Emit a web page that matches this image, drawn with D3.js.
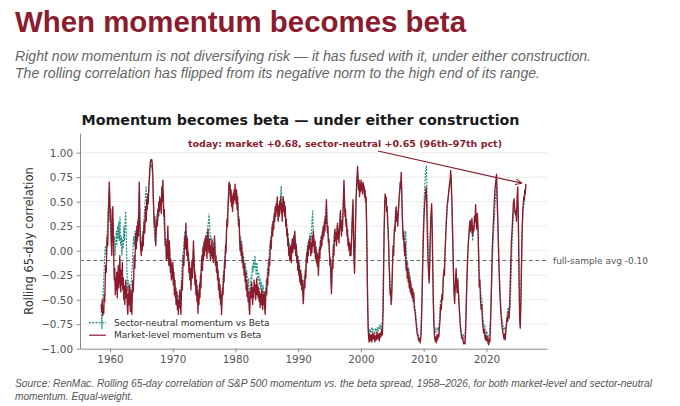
<!DOCTYPE html>
<html><head><meta charset="utf-8">
<script src="https://cdn.jsdelivr.net/npm/d3@7"></script>
<style>body{margin:0;background:#fff;} svg{display:block;}</style>
</head><body>
<svg id="chart" width="680" height="406"></svg>
<script>
// ---------- DATA ----------
const seriesNames = ["Sector-neutral momentum vs Beta", "Market-level momentum vs Beta"];
const yTicks = [-1.0, -0.75, -0.5, -0.25, 0.0, 0.25, 0.5, 0.75, 1.0];
const xTicks = [1960, 1970, 1980, 1990, 2000, 2010, 2020];
const fullSampleAvg = -0.10;
const todayMarket = 0.68, todaySector = 0.65, todayPct = "96th–97th pct";

const marketLevel = [
[1958.60,-0.55],[1958.68,-0.62],[1958.76,-0.50],[1958.84,-0.66],[1958.92,-0.58],[1959.00,-0.64],[1959.08,-0.45],[1959.16,-0.52],[1959.24,-0.30],[1959.32,-0.15],[1959.40,-0.22],[1959.48,0.02],[1959.56,0.15],[1959.64,0.05],[1959.72,0.35],[1959.80,0.50],[1959.88,0.70],[1959.96,0.55],
[1960.04,0.30],[1960.12,0.42],[1960.20,0.10],[1960.28,-0.05],[1960.36,0.20],[1960.44,0.45],[1960.52,0.22],[1960.60,-0.10],[1960.68,-0.30],[1960.76,-0.18],[1960.84,-0.45],[1960.92,-0.28],[1961.00,-0.40],[1961.08,-0.22],[1961.16,-0.48],[1961.24,-0.30],[1961.32,-0.15],[1961.40,-0.38],[1961.48,-0.25],[1961.56,-0.05],[1961.64,-0.30],[1961.72,-0.42],[1961.80,-0.20],[1961.88,-0.35],[1961.96,-0.12],
[1962.04,-0.40],[1962.12,-0.28],[1962.20,-0.50],[1962.28,-0.36],[1962.36,-0.55],[1962.44,-0.40],[1962.52,-0.30],[1962.60,-0.48],[1962.68,-0.38],[1962.76,-0.58],[1962.84,-0.65],[1962.92,-0.45],[1963.00,-0.55],[1963.08,-0.35],[1963.16,-0.48],[1963.24,-0.62],[1963.32,-0.40],[1963.40,-0.52],[1963.48,-0.65],[1963.56,-0.45],[1963.64,-0.30],[1963.72,-0.42],[1963.80,-0.22],[1963.88,-0.05],[1963.96,-0.18],
[1964.04,0.05],[1964.12,0.18],[1964.20,0.02],[1964.28,0.25],[1964.36,0.10],[1964.44,0.30],[1964.52,0.15],[1964.60,0.40],[1964.66,0.70],[1964.74,0.35],[1964.82,0.10],[1964.90,0.02],[1964.98,-0.05],[1965.06,0.08],[1965.14,0.00],[1965.22,0.15],[1965.30,0.05],[1965.38,0.22],[1965.46,0.30],[1965.54,0.18],[1965.62,0.38],[1965.70,0.45],[1965.78,0.30],[1965.86,0.52],[1965.94,0.42],
[1966.02,0.58],[1966.10,0.48],[1966.18,0.65],[1966.26,0.72],[1966.34,0.82],[1966.42,0.90],[1966.50,0.93],[1966.58,0.91],[1966.66,0.93],[1966.74,0.88],[1966.82,0.78],[1966.90,0.55],[1966.98,0.40],[1967.06,0.25],[1967.14,0.35],[1967.22,0.15],[1967.30,0.05],[1967.38,0.22],[1967.46,0.32],[1967.54,0.25],[1967.62,0.42],[1967.70,0.35],[1967.78,0.50],[1967.86,0.40],[1967.94,0.55],
[1968.02,0.45],[1968.10,0.52],[1968.18,0.38],[1968.26,0.65],[1968.34,0.50],[1968.42,0.72],[1968.50,0.55],[1968.58,0.35],[1968.66,0.42],[1968.74,0.18],[1968.82,0.05],[1968.90,0.12],[1968.98,-0.10],[1969.06,0.05],[1969.14,-0.08],[1969.22,0.25],[1969.30,0.02],[1969.38,-0.15],[1969.46,0.10],[1969.54,-0.05],[1969.62,-0.22],[1969.70,-0.10],[1969.78,-0.30],[1969.86,-0.15],[1969.94,-0.28],
[1970.02,-0.12],[1970.10,-0.35],[1970.18,-0.22],[1970.26,-0.45],[1970.34,-0.30],[1970.42,-0.48],[1970.50,-0.38],[1970.58,-0.55],[1970.66,-0.42],[1970.74,-0.60],[1970.82,-0.50],[1970.90,-0.65],[1970.98,-0.52],[1971.06,-0.58],[1971.14,-0.40],[1971.22,-0.52],[1971.30,-0.65],[1971.38,-0.45],[1971.46,-0.30],[1971.54,-0.40],[1971.62,-0.18],[1971.70,-0.05],[1971.78,-0.15],[1971.86,0.05],[1971.94,0.15],
[1972.02,0.02],[1972.10,0.28],[1972.18,0.10],[1972.26,-0.05],[1972.34,0.12],[1972.42,-0.10],[1972.50,-0.02],[1972.58,-0.22],[1972.66,-0.12],[1972.74,-0.30],[1972.82,-0.18],[1972.90,-0.40],[1972.98,-0.25],[1973.06,-0.10],[1973.14,-0.28],[1973.22,-0.15],[1973.30,0.10],[1973.38,-0.05],[1973.46,-0.20],[1973.54,-0.35],[1973.62,-0.25],[1973.70,-0.45],[1973.78,-0.30],[1973.86,-0.52],[1973.94,-0.40],
[1974.02,-0.64],[1974.10,-0.45],[1974.18,-0.55],[1974.26,-0.35],[1974.34,-0.48],[1974.42,-0.25],[1974.50,-0.38],[1974.58,-0.15],[1974.66,-0.05],[1974.74,-0.20],[1974.82,0.02],[1974.90,-0.10],[1974.98,0.08],[1975.06,-0.05],[1975.14,0.12],[1975.22,0.00],[1975.30,0.15],[1975.38,0.05],[1975.46,-0.08],[1975.54,0.10],[1975.62,0.22],[1975.70,0.05],[1975.78,-0.02],[1975.86,0.12],[1975.94,0.02],
[1976.02,-0.10],[1976.10,0.05],[1976.18,-0.05],[1976.26,0.10],[1976.34,-0.08],[1976.42,0.02],[1976.50,-0.12],[1976.58,0.05],[1976.66,0.15],[1976.74,-0.02],[1976.82,-0.15],[1976.90,-0.05],[1976.98,-0.22],[1977.06,-0.12],[1977.14,-0.30],[1977.22,-0.20],[1977.30,-0.40],[1977.38,-0.28],[1977.46,-0.48],[1977.54,-0.35],[1977.62,-0.55],[1977.70,-0.45],[1977.78,-0.65],[1977.86,-0.50],[1977.94,-0.38],
[1978.02,-0.45],[1978.10,-0.25],[1978.18,-0.32],[1978.26,-0.10],[1978.34,-0.18],[1978.42,0.05],[1978.50,-0.02],[1978.58,0.20],[1978.66,0.32],[1978.74,0.25],[1978.82,0.45],[1978.90,0.58],[1978.98,0.70],[1979.06,0.62],[1979.14,0.68],[1979.22,0.50],[1979.30,0.62],[1979.38,0.45],[1979.46,0.55],[1979.54,0.40],[1979.62,0.58],[1979.70,0.48],[1979.78,0.62],[1979.86,0.52],[1979.94,0.68],
[1980.02,0.55],[1980.10,0.48],[1980.18,0.62],[1980.26,0.42],[1980.34,0.55],[1980.42,0.35],[1980.50,0.25],[1980.58,0.32],[1980.66,0.12],[1980.74,0.00],[1980.82,0.10],[1980.90,-0.05],[1980.98,0.05],[1981.06,-0.12],[1981.14,-0.02],[1981.22,-0.18],[1981.30,-0.10],[1981.38,-0.25],[1981.46,-0.15],[1981.54,-0.32],[1981.62,-0.22],[1981.70,-0.40],[1981.78,-0.30],[1981.86,-0.47],[1981.94,-0.35],
[1982.02,-0.52],[1982.10,-0.42],[1982.18,-0.58],[1982.26,-0.65],[1982.34,-0.50],[1982.42,-0.40],[1982.50,-0.48],[1982.58,-0.32],[1982.66,-0.42],[1982.74,-0.55],[1982.82,-0.38],[1982.90,-0.48],[1982.98,-0.30],[1983.06,-0.42],[1983.14,-0.35],[1983.22,-0.50],[1983.30,-0.40],[1983.38,-0.28],[1983.46,-0.45],[1983.54,-0.35],[1983.62,-0.48],[1983.70,-0.38],[1983.78,-0.52],[1983.86,-0.42],[1983.94,-0.58],
[1984.02,-0.45],[1984.10,-0.55],[1984.18,-0.40],[1984.26,-0.50],[1984.34,-0.60],[1984.42,-0.45],[1984.50,-0.55],[1984.58,-0.42],[1984.66,-0.58],[1984.74,-0.65],[1984.82,-0.48],[1984.90,-0.38],[1984.98,-0.45],[1985.06,-0.28],[1985.14,-0.35],[1985.22,-0.18],[1985.30,-0.25],[1985.38,-0.08],[1985.46,-0.15],[1985.54,0.02],[1985.62,0.10],[1985.70,0.02],[1985.78,0.18],[1985.86,0.25],[1985.94,0.15],
[1986.02,0.30],[1986.10,0.22],[1986.18,0.38],[1986.26,0.30],[1986.34,0.45],[1986.42,0.35],[1986.50,0.48],[1986.58,0.40],[1986.66,0.55],[1986.74,0.38],[1986.82,0.30],[1986.90,0.45],[1986.98,0.35],[1987.06,0.50],[1987.14,0.42],[1987.22,0.55],[1987.30,0.38],[1987.38,0.48],[1987.46,0.30],[1987.54,0.45],[1987.62,0.55],[1987.70,0.40],[1987.78,0.50],[1987.86,0.35],[1987.94,0.45],
[1988.02,0.25],[1988.10,0.32],[1988.18,0.15],[1988.26,0.22],[1988.34,0.05],[1988.42,0.12],[1988.50,-0.05],[1988.58,0.02],[1988.66,-0.10],[1988.74,0.05],[1988.82,-0.02],[1988.90,-0.12],[1988.98,0.05],[1989.06,0.12],[1989.14,-0.02],[1989.22,0.08],[1989.30,0.15],[1989.38,0.02],[1989.46,0.20],[1989.54,0.08],[1989.62,-0.05],[1989.70,0.05],[1989.78,-0.12],[1989.86,-0.05],[1989.94,-0.20],
[1990.02,-0.10],[1990.10,-0.25],[1990.18,-0.15],[1990.26,-0.32],[1990.34,-0.20],[1990.42,-0.35],[1990.50,-0.25],[1990.58,-0.40],[1990.66,-0.30],[1990.74,-0.45],[1990.82,-0.54],[1990.90,-0.42],[1990.98,-0.30],[1991.06,-0.38],[1991.14,-0.20],[1991.22,-0.28],[1991.30,-0.10],[1991.38,-0.02],[1991.46,-0.12],[1991.54,0.05],[1991.62,-0.05],[1991.70,0.10],[1991.78,0.02],[1991.86,0.14],[1991.94,0.05],
[1992.02,-0.05],[1992.10,0.08],[1992.18,-0.02],[1992.26,0.15],[1992.34,0.05],[1992.42,0.20],[1992.50,0.08],[1992.58,-0.02],[1992.66,0.10],[1992.74,-0.08],[1992.82,0.02],[1992.90,-0.12],[1992.98,-0.02],[1993.06,-0.16],[1993.14,-0.05],[1993.22,-0.25],[1993.30,-0.12],[1993.38,0.02],[1993.46,-0.08],[1993.54,0.10],[1993.62,0.02],[1993.70,0.15],[1993.78,0.05],[1993.86,0.20],[1993.94,0.12],
[1994.02,0.25],[1994.10,0.15],[1994.18,0.30],[1994.26,0.20],[1994.34,0.35],[1994.42,0.28],[1994.50,0.52],[1994.58,0.30],[1994.66,0.18],[1994.74,0.25],[1994.82,0.08],[1994.90,0.12],[1994.98,-0.02],[1995.06,-0.15],[1995.14,-0.08],[1995.22,-0.28],[1995.30,-0.44],[1995.38,-0.25],[1995.46,-0.10],[1995.54,-0.18],[1995.62,0.05],[1995.70,-0.05],[1995.78,0.15],[1995.86,0.22],[1995.94,0.10],
[1996.02,0.18],[1996.10,0.05],[1996.18,0.15],[1996.26,0.28],[1996.34,0.12],[1996.42,0.22],[1996.50,0.08],[1996.58,0.20],[1996.66,0.30],[1996.74,0.41],[1996.82,0.25],[1996.90,0.15],[1996.98,0.30],[1997.06,0.20],[1997.14,0.38],[1997.22,0.55],[1997.30,0.72],[1997.38,0.50],[1997.46,0.35],[1997.54,0.42],[1997.62,0.25],[1997.70,0.32],[1997.78,0.15],[1997.86,0.22],[1997.94,0.05],
[1998.02,0.12],[1998.10,0.00],[1998.18,0.08],[1998.26,-0.05],[1998.34,0.05],[1998.42,-0.05],[1998.50,0.10],[1998.58,0.25],[1998.66,0.40],[1998.74,0.52],[1998.82,0.15],[1998.90,-0.10],[1998.98,-0.23],[1999.06,0.05],[1999.14,0.30],[1999.22,0.50],[1999.30,0.65],[1999.38,0.75],[1999.46,0.86],[1999.54,0.75],[1999.62,0.62],[1999.70,0.72],[1999.78,0.55],[1999.86,0.68],[1999.94,0.60],
[2000.02,0.72],[2000.10,0.62],[2000.18,0.68],[2000.26,0.58],[2000.34,0.70],[2000.42,0.62],[2000.50,0.66],[2000.58,0.55],[2000.66,0.62],[2000.74,0.50],[2000.82,0.55],[2000.90,0.30],[2000.98,-0.10],[2001.06,-0.50],[2001.14,-0.78],[2001.22,-0.88],[2001.30,-0.93],[2001.38,-0.85],[2001.50,-0.92],[2001.62,-0.86],[2001.74,-0.93],[2001.86,-0.84],[2001.98,-0.90],
[2002.10,-0.85],[2002.22,-0.93],[2002.34,-0.87],[2002.46,-0.91],[2002.58,-0.83],[2002.70,-0.90],[2002.82,-0.85],[2002.94,-0.92],[2003.06,-0.84],[2003.18,-0.88],[2003.30,-0.80],[2003.42,-0.86],[2003.54,-0.60],[2003.62,-0.20],[2003.70,0.20],[2003.78,0.45],[2003.86,0.58],[2003.94,0.50],
[2004.02,0.55],[2004.10,0.40],[2004.18,0.45],[2004.26,0.30],[2004.34,0.20],[2004.42,0.05],[2004.50,-0.15],[2004.58,-0.30],[2004.66,-0.45],[2004.74,-0.40],[2004.82,-0.55],[2004.90,-0.48],[2004.98,-0.30],[2005.06,-0.10],[2005.14,0.05],[2005.22,-0.05],[2005.30,0.15],[2005.38,0.25],[2005.46,0.20],[2005.54,0.40],[2005.62,0.45],[2005.70,0.30],[2005.78,0.38],[2005.86,0.25],[2005.94,0.35],
[2006.02,0.45],[2006.10,0.55],[2006.18,0.62],[2006.26,0.70],[2006.34,0.65],[2006.42,0.80],[2006.50,0.60],[2006.58,0.40],[2006.66,0.25],[2006.74,0.12],[2006.82,0.20],[2006.90,0.02],[2006.98,-0.05],[2007.06,0.08],[2007.14,-0.10],[2007.22,-0.20],[2007.30,-0.12],[2007.38,-0.28],[2007.46,-0.18],[2007.54,-0.32],[2007.62,-0.22],[2007.70,-0.38],[2007.78,-0.28],[2007.86,-0.42],[2007.94,-0.32],
[2008.02,-0.45],[2008.10,-0.38],[2008.18,-0.48],[2008.26,-0.40],[2008.34,-0.52],[2008.42,-0.45],[2008.50,-0.58],[2008.62,-0.62],[2008.74,-0.70],[2008.86,-0.78],[2008.98,-0.85],[2009.10,-0.88],[2009.22,-0.92],[2009.34,-0.90],[2009.46,-0.94],[2009.58,-0.86],[2009.70,-0.60],[2009.82,-0.25],[2009.94,0.10],
[2010.06,0.35],[2010.18,0.50],[2010.30,0.58],[2010.40,0.65],[2010.50,0.45],[2010.60,0.15],[2010.70,-0.10],[2010.80,-0.25],[2010.88,-0.33],[2010.96,-0.15],[2011.04,0.10],[2011.12,0.30],[2011.20,0.40],[2011.28,0.48],[2011.36,0.25],[2011.44,-0.10],[2011.52,-0.45],[2011.62,-0.72],[2011.72,-0.86],[2011.82,-0.92],[2011.92,-0.88],
[2012.02,-0.94],[2012.12,-0.86],[2012.22,-0.91],[2012.32,-0.85],[2012.42,-0.88],[2012.52,-0.78],[2012.62,-0.70],[2012.72,-0.55],[2012.82,-0.60],[2012.92,-0.45],[2013.02,-0.50],[2013.12,-0.30],[2013.22,-0.20],[2013.32,-0.25],[2013.42,0.00],[2013.52,0.15],[2013.62,0.30],[2013.72,0.42],[2013.82,0.50],[2013.92,0.55],
[2014.02,0.62],[2014.12,0.68],[2014.22,0.72],[2014.30,0.82],[2014.38,0.75],[2014.46,0.60],[2014.56,0.35],[2014.66,0.05],[2014.76,-0.25],[2014.86,-0.45],[2014.94,-0.54],[2015.02,-0.40],[2015.10,-0.30],[2015.18,-0.18],[2015.26,-0.35],[2015.34,-0.43],[2015.42,-0.30],[2015.50,-0.38],[2015.60,-0.50],[2015.70,-0.62],[2015.80,-0.72],[2015.90,-0.80],
[2016.00,-0.86],[2016.10,-0.90],[2016.20,-0.88],[2016.30,-0.92],[2016.40,-0.95],[2016.50,-0.93],[2016.60,-0.95],[2016.70,-0.80],[2016.80,-0.55],[2016.90,-0.30],[2017.00,-0.10],[2017.10,0.05],[2017.20,0.15],[2017.30,0.25],[2017.40,0.31],[2017.50,0.20],[2017.60,0.28],[2017.70,0.33],[2017.80,0.15],[2017.90,0.25],
[2018.00,0.20],[2018.10,0.35],[2018.20,0.30],[2018.28,0.47],[2018.36,0.30],[2018.46,0.22],[2018.56,0.38],[2018.66,0.25],[2018.76,-0.05],[2018.86,-0.37],[2018.96,-0.30],[2019.06,-0.50],[2019.16,-0.60],[2019.26,-0.55],[2019.36,-0.70],[2019.46,-0.78],[2019.56,-0.84],[2019.66,-0.80],[2019.76,-0.88],[2019.86,-0.91],[2019.96,-0.86],
[2020.06,-0.92],[2020.16,-0.88],[2020.26,-0.94],[2020.36,-0.96],[2020.46,-0.90],[2020.56,-0.93],[2020.66,-0.75],[2020.76,-0.50],[2020.86,-0.20],[2020.96,0.05],[2021.06,0.20],[2021.16,0.35],[2021.26,0.50],[2021.36,0.62],[2021.46,0.68],[2021.56,0.75],[2021.62,0.78],[2021.70,0.60],[2021.80,0.35],[2021.90,0.10],
[2022.00,-0.15],[2022.10,-0.35],[2022.20,-0.50],[2022.30,-0.62],[2022.40,-0.70],[2022.50,-0.78],[2022.60,-0.82],[2022.70,-0.86],[2022.80,-0.90],[2022.90,-0.85],[2023.00,-0.91],[2023.10,-0.82],[2023.20,-0.76],[2023.30,-0.68],[2023.40,-0.72],[2023.50,-0.62],[2023.60,-0.68],[2023.70,-0.55],[2023.80,-0.35],[2023.90,-0.10],
[2024.00,0.10],[2024.10,0.21],[2024.20,0.35],[2024.30,0.48],[2024.40,0.53],[2024.50,0.45],[2024.60,0.38],[2024.70,0.41],[2024.80,0.30],[2024.90,0.55],[2025.00,0.65],[2025.08,0.40],[2025.16,0.00],[2025.24,-0.45],[2025.32,-0.72],[2025.40,-0.79],[2025.48,-0.60],[2025.56,-0.30],[2025.64,0.00],[2025.72,0.25],[2025.80,0.40],[2025.88,0.48],[2025.96,0.55],
[2026.04,0.52],[2026.12,0.62],[2026.20,0.58],[2026.28,0.68]
];

const sectorNeutral = [
[1958.60,-0.55],[1958.70,-0.80],[1958.80,-0.60],[1958.90,-0.45],[1959.00,-0.30],[1959.10,-0.15],[1959.20,0.02],[1959.30,0.05],[1959.40,-0.05],[1959.50,0.10],[1959.60,0.25],[1959.70,0.40],[1959.80,0.55],[1959.90,0.62],
[1960.00,0.40],[1960.10,0.20],[1960.20,0.05],[1960.30,0.15],[1960.40,0.32],[1960.50,0.20],[1960.60,0.05],[1960.70,0.15],[1960.80,-0.05],[1960.90,0.10],[1961.00,0.20],[1961.10,0.05],[1961.20,0.25],[1961.30,0.12],[1961.40,0.30],[1961.50,0.10],[1961.60,0.35],[1961.70,0.05],[1961.80,0.15],[1961.90,-0.05],
[1962.00,0.12],[1962.10,0.02],[1962.20,0.25],[1962.30,0.10],[1962.40,0.30],[1962.50,0.40],[1962.60,0.15],[1962.70,-0.20],[1962.80,-0.40],[1962.90,-0.30],[1963.00,-0.45],[1963.10,-0.35],[1963.20,-0.50],[1963.30,-0.40],[1963.40,-0.30],[1963.50,-0.20],[1963.60,-0.10],[1963.70,0.05],[1963.80,0.15],[1963.90,0.05],
[1964.00,0.20],[1964.10,0.10],[1964.20,0.22],[1964.30,0.15],[1964.40,0.28],[1964.50,0.35],[1964.60,0.55],[1964.70,0.62],[1964.80,0.30],[1964.90,0.10],[1965.00,0.05],[1965.10,0.12],[1965.20,0.20],[1965.30,0.15],[1965.40,0.30],[1965.50,0.40],[1965.60,0.50],[1965.70,0.58],[1965.75,0.66],[1965.85,0.45],
[1966.00,0.50],[1966.10,0.55],[1966.20,0.62],[1966.30,0.75],[1966.40,0.85],[1966.50,0.88],[1966.60,0.86],[1966.70,0.88],[1966.80,0.75],[1966.90,0.50],[1967.00,0.30],[1967.10,0.15],[1967.20,0.08],[1967.30,0.20],[1967.40,0.30],[1967.50,0.38],[1967.60,0.30],[1967.70,0.42],[1967.80,0.35],[1967.90,0.45],
[1968.00,0.40],[1968.10,0.48],[1968.20,0.55],[1968.30,0.50],[1968.40,0.60],[1968.50,0.45],[1968.60,0.30],[1968.70,0.20],[1968.80,0.05],[1968.90,0.10],[1969.00,-0.05],[1969.10,0.02],[1969.20,0.15],[1969.30,-0.05],[1969.40,-0.12],[1969.50,0.02],[1969.60,-0.15],[1969.70,-0.08],[1969.80,-0.20],[1969.90,-0.12],
[1970.00,-0.25],[1970.10,-0.18],[1970.20,-0.35],[1970.30,-0.28],[1970.40,-0.40],[1970.50,-0.55],[1970.60,-0.45],[1970.70,-0.52],[1970.80,-0.60],[1970.90,-0.45],[1971.00,-0.50],[1971.10,-0.42],[1971.20,-0.55],[1971.30,-0.40],[1971.40,-0.25],[1971.50,-0.15],[1971.60,-0.05],[1971.70,0.00],[1971.80,0.10],[1971.90,0.20],
[1972.00,0.05],[1972.10,0.12],[1972.20,0.00],[1972.30,0.15],[1972.40,-0.05],[1972.50,-0.12],[1972.60,-0.20],[1972.70,-0.30],[1972.80,-0.22],[1972.90,-0.35],[1973.00,-0.20],[1973.10,-0.15],[1973.20,-0.05],[1973.30,0.02],[1973.40,-0.10],[1973.50,-0.25],[1973.60,-0.20],[1973.70,-0.35],[1973.80,-0.45],[1973.90,-0.35],
[1974.00,-0.55],[1974.10,-0.42],[1974.20,-0.48],[1974.30,-0.32],[1974.40,-0.38],[1974.50,-0.20],[1974.60,-0.10],[1974.70,-0.05],[1974.80,0.05],[1974.90,0.00],[1975.00,0.10],[1975.10,0.05],[1975.20,0.15],[1975.30,0.10],[1975.40,0.20],[1975.50,0.12],[1975.60,0.25],[1975.70,0.30],[1975.80,0.38],[1975.90,0.22],
[1976.00,0.10],[1976.10,0.15],[1976.20,0.05],[1976.30,0.12],[1976.40,0.02],[1976.50,-0.05],[1976.60,0.08],[1976.70,0.10],[1976.80,-0.05],[1976.90,-0.10],[1977.00,-0.15],[1977.10,-0.10],[1977.20,-0.20],[1977.30,-0.28],[1977.40,-0.35],[1977.50,-0.40],[1977.60,-0.48],[1977.70,-0.42],[1977.80,-0.55],[1977.90,-0.40],
[1978.00,-0.35],[1978.10,-0.20],[1978.20,-0.25],[1978.30,-0.05],[1978.40,0.00],[1978.50,0.10],[1978.60,0.25],[1978.70,0.35],[1978.80,0.48],[1978.90,0.55],[1979.00,0.67],[1979.10,0.60],[1979.20,0.55],[1979.30,0.60],[1979.40,0.48],[1979.50,0.52],[1979.60,0.55],[1979.70,0.50],[1979.80,0.58],[1979.90,0.62],
[1980.00,0.60],[1980.10,0.52],[1980.20,0.58],[1980.30,0.45],[1980.40,0.50],[1980.50,0.30],[1980.60,0.35],[1980.70,0.10],[1980.80,0.15],[1980.90,0.05],[1981.00,0.10],[1981.10,0.00],[1981.20,-0.10],[1981.30,-0.05],[1981.40,-0.15],[1981.50,-0.20],[1981.60,-0.12],[1981.70,-0.28],[1981.80,-0.20],[1981.90,-0.30],
[1982.00,-0.35],[1982.10,-0.28],[1982.20,-0.40],[1982.30,-0.45],[1982.40,-0.35],[1982.50,-0.25],[1982.60,-0.30],[1982.70,-0.15],[1982.80,-0.22],[1982.90,-0.10],[1983.00,-0.18],[1983.10,-0.05],[1983.20,-0.15],[1983.30,-0.25],[1983.40,-0.12],[1983.50,-0.20],[1983.60,-0.30],[1983.70,-0.22],[1983.80,-0.35],[1983.90,-0.28],
[1984.00,-0.40],[1984.10,-0.32],[1984.20,-0.38],[1984.30,-0.45],[1984.40,-0.35],[1984.50,-0.42],[1984.60,-0.50],[1984.70,-0.55],[1984.80,-0.45],[1984.90,-0.30],[1985.00,-0.35],[1985.10,-0.20],[1985.20,-0.12],[1985.30,-0.15],[1985.40,0.00],[1985.50,0.05],[1985.60,0.15],[1985.70,0.10],[1985.80,0.22],[1985.90,0.30],
[1986.00,0.25],[1986.10,0.35],[1986.20,0.30],[1986.30,0.42],[1986.40,0.38],[1986.50,0.45],[1986.60,0.50],[1986.70,0.40],[1986.80,0.35],[1986.90,0.48],[1987.00,0.42],[1987.10,0.52],[1987.20,0.58],[1987.30,0.66],[1987.40,0.50],[1987.50,0.42],[1987.60,0.55],[1987.70,0.45],[1987.80,0.50],[1987.90,0.40],
[1988.00,0.35],[1988.10,0.30],[1988.20,0.25],[1988.30,0.15],[1988.40,0.18],[1988.50,0.05],[1988.60,0.08],[1988.70,-0.02],[1988.80,0.05],[1988.90,-0.05],[1989.00,0.08],[1989.10,0.02],[1989.20,0.12],[1989.30,0.10],[1989.40,0.18],[1989.50,0.12],[1989.60,0.02],[1989.70,0.08],[1989.80,-0.05],[1989.90,-0.10],
[1990.00,-0.05],[1990.10,-0.15],[1990.20,-0.10],[1990.30,-0.22],[1990.40,-0.28],[1990.50,-0.20],[1990.60,-0.32],[1990.70,-0.38],[1990.80,-0.45],[1990.90,-0.35],[1991.00,-0.25],[1991.10,-0.30],[1991.20,-0.15],[1991.30,-0.05],[1991.40,0.00],[1991.50,0.08],[1991.60,0.02],[1991.70,0.12],[1991.80,0.10],[1991.90,0.18],
[1992.00,0.05],[1992.10,0.15],[1992.20,0.30],[1992.30,0.41],[1992.40,0.20],[1992.50,0.12],[1992.60,0.05],[1992.70,0.10],[1992.80,-0.02],[1992.90,0.05],[1993.00,-0.08],[1993.10,-0.02],[1993.20,-0.15],[1993.30,-0.05],[1993.40,0.05],[1993.50,0.00],[1993.60,0.12],[1993.70,0.15],[1993.80,0.10],[1993.90,0.22],
[1994.00,0.25],[1994.10,0.20],[1994.20,0.30],[1994.30,0.35],[1994.40,0.42],[1994.50,0.48],[1994.60,0.30],[1994.70,0.20],[1994.80,0.12],[1994.90,0.05],[1995.00,-0.05],[1995.10,-0.15],[1995.20,-0.30],[1995.30,-0.38],[1995.40,-0.20],[1995.50,-0.05],[1995.60,0.05],[1995.70,0.12],[1995.80,0.20],[1995.90,0.15],
[1996.00,0.10],[1996.10,0.18],[1996.20,0.25],[1996.30,0.20],[1996.40,0.15],[1996.50,0.22],[1996.60,0.30],[1996.70,0.38],[1996.80,0.28],[1996.90,0.20],[1997.00,0.25],[1997.10,0.35],[1997.20,0.50],[1997.30,0.65],[1997.40,0.48],[1997.50,0.38],[1997.60,0.30],[1997.70,0.28],[1997.80,0.20],[1997.90,0.15],
[1998.00,0.10],[1998.10,0.05],[1998.20,0.08],[1998.30,0.00],[1998.40,0.02],[1998.50,0.12],[1998.60,0.30],[1998.70,0.45],[1998.80,0.20],[1998.90,-0.05],[1999.00,-0.15],[1999.10,0.10],[1999.20,0.40],[1999.30,0.62],[1999.40,0.75],[1999.50,0.80],[1999.60,0.65],[1999.70,0.70],[1999.80,0.60],[1999.90,0.65],
[2000.00,0.70],[2000.10,0.62],[2000.20,0.66],[2000.30,0.60],[2000.40,0.68],[2000.50,0.62],[2000.60,0.60],[2000.70,0.52],[2000.80,0.50],[2000.90,0.25],[2001.00,-0.15],[2001.10,-0.55],[2001.20,-0.78],[2001.30,-0.85],[2001.45,-0.80],[2001.60,-0.84],[2001.75,-0.78],[2001.90,-0.83],
[2002.05,-0.80],[2002.20,-0.85],[2002.35,-0.79],[2002.50,-0.84],[2002.65,-0.78],[2002.80,-0.82],[2002.95,-0.76],[2003.10,-0.80],[2003.25,-0.74],[2003.40,-0.80],[2003.50,-0.55],[2003.60,-0.15],[2003.70,0.20],[2003.80,0.42],[2003.90,0.55],
[2004.00,0.48],[2004.10,0.45],[2004.20,0.40],[2004.30,0.25],[2004.40,0.10],[2004.50,-0.10],[2004.60,-0.28],[2004.70,-0.40],[2004.80,-0.48],[2004.90,-0.40],[2005.00,-0.22],[2005.10,0.00],[2005.20,0.08],[2005.30,0.18],[2005.40,0.28],[2005.50,0.35],[2005.60,0.40],[2005.70,0.32],[2005.80,0.35],[2005.90,0.40],
[2006.00,0.45],[2006.10,0.52],[2006.20,0.60],[2006.30,0.62],[2006.45,0.75],[2006.55,0.45],[2006.65,0.22],[2006.75,0.10],[2006.85,0.15],[2006.95,0.02],[2007.05,0.10],[2007.15,0.20],[2007.25,-0.05],[2007.35,-0.15],[2007.45,-0.10],[2007.55,-0.25],[2007.65,-0.18],[2007.75,-0.32],[2007.85,-0.25],[2007.95,-0.38],
[2008.05,-0.35],[2008.15,-0.42],[2008.25,-0.38],[2008.35,-0.48],[2008.45,-0.42],[2008.55,-0.55],[2008.70,-0.62],[2008.85,-0.72],[2008.95,-0.80],[2009.10,-0.85],[2009.25,-0.88],[2009.40,-0.92],[2009.55,-0.85],[2009.70,-0.55],[2009.80,-0.20],[2009.90,0.10],
[2010.00,0.35],[2010.10,0.55],[2010.20,0.70],[2010.30,0.80],[2010.45,0.87],[2010.55,0.55],[2010.65,0.20],[2010.75,-0.10],[2010.85,-0.28],[2010.95,-0.15],[2011.05,0.10],[2011.15,0.30],[2011.25,0.40],[2011.35,0.20],[2011.45,-0.20],[2011.55,-0.55],[2011.65,-0.75],[2011.80,-0.84],[2011.95,-0.80],
[2012.10,-0.83],[2012.25,-0.78],[2012.40,-0.82],[2012.55,-0.65],[2012.70,-0.50],[2012.85,-0.52],[2013.00,-0.42],[2013.15,-0.25],[2013.30,-0.15],[2013.45,0.05],[2013.60,0.28],[2013.75,0.45],[2013.90,0.52],[2014.05,0.60],[2014.20,0.68],[2014.32,0.75],[2014.45,0.55],[2014.55,0.30],[2014.65,0.05],[2014.75,-0.20],[2014.85,-0.38],[2014.95,-0.45],
[2015.05,-0.35],[2015.15,-0.22],[2015.25,-0.30],[2015.35,-0.35],[2015.45,-0.28],[2015.55,-0.42],[2015.70,-0.58],[2015.85,-0.76],[2016.00,-0.84],[2016.15,-0.86],[2016.30,-0.85],[2016.45,-0.90],[2016.60,-0.88],[2016.75,-0.65],[2016.90,-0.28],
[2017.05,0.00],[2017.20,0.15],[2017.35,0.25],[2017.50,0.18],[2017.65,0.30],[2017.80,0.10],[2017.95,0.20],[2018.10,0.28],[2018.25,0.35],[2018.40,0.25],[2018.55,0.30],[2018.70,0.15],[2018.85,-0.20],[2019.00,-0.35],[2019.15,-0.45],[2019.30,-0.50],[2019.45,-0.68],[2019.60,-0.78],[2019.75,-0.76],[2019.90,-0.85],
[2020.05,-0.82],[2020.20,-0.86],[2020.35,-0.90],[2020.50,-0.85],[2020.65,-0.70],[2020.80,-0.45],[2020.95,-0.10],[2021.10,0.15],[2021.25,0.30],[2021.40,0.48],[2021.52,0.60],[2021.62,0.65],[2021.72,0.50],[2021.85,0.25],
[2022.00,-0.10],[2022.15,-0.35],[2022.30,-0.55],[2022.45,-0.68],[2022.60,-0.75],[2022.75,-0.80],[2022.90,-0.78],[2023.05,-0.84],[2023.20,-0.72],[2023.35,-0.62],[2023.50,-0.58],[2023.65,-0.70],[2023.80,-0.55],[2023.95,-0.25],
[2024.10,0.10],[2024.25,0.30],[2024.40,0.45],[2024.55,0.38],[2024.70,0.35],[2024.85,0.40],[2025.00,0.50],[2025.10,0.30],[2025.20,-0.20],[2025.30,-0.55],[2025.40,-0.70],[2025.50,-0.50],[2025.60,-0.10],[2025.70,0.20],[2025.80,0.35],[2025.90,0.42],
[2026.00,0.48],[2026.10,0.55],[2026.20,0.60],[2026.28,0.65]
];

// ---------- LAYOUT ----------
const RED = "#8a1c2e", TEAL = "#2a9084";
const svg = d3.select("#chart");
const P = {left: 80, right: 547, top: 133.1, bottom: 348.7};

const ext = d3.extent(marketLevel.concat(sectorNeutral), d => d[0]);
const pad = (ext[1] - ext[0]) * 0.05;
const x = d3.scaleLinear().domain([ext[0] - pad, ext[1] + pad]).range([P.left, P.right]);
const y = d3.scaleLinear().domain([-1.0, 1.2]).range([P.bottom, P.top]);

function txt(s, attrs) {
  const t = svg.append("text").text(s);
  Object.entries(attrs).forEach(([k, v]) => t.attr(k, v));
  return t;
}

// header
txt("When momentum becomes beta", {x: 15, y: 32, "font-family": "Liberation Sans, Arial, sans-serif",
  "font-weight": "bold", "font-size": 30, fill: RED, textLength: 451, lengthAdjust: "spacingAndGlyphs"});
txt("Right now momentum is not diversifying risk — it has fused with it, under either construction.",
  {x: 15, y: 61, "font-family": "Liberation Sans, Arial, sans-serif", "font-style": "italic", "font-size": 14.5,
   fill: "#666", textLength: 576, lengthAdjust: "spacingAndGlyphs"});
txt("The rolling correlation has flipped from its negative norm to the high end of its range.",
  {x: 15, y: 78, "font-family": "Liberation Sans, Arial, sans-serif", "font-style": "italic", "font-size": 14.5,
   fill: "#666", textLength: 525, lengthAdjust: "spacingAndGlyphs"});

// chart title
txt("Momentum becomes beta — under either construction", {x: 81.5, y: 125, "font-family": "DejaVu Sans, sans-serif",
  "font-weight": "bold", "font-size": 14, fill: "#1a1a1a", textLength: 438, lengthAdjust: "spacingAndGlyphs"});

// grid
svg.append("g").selectAll("line").data(yTicks.filter(v => v > -1)).join("line")
  .attr("x1", P.left).attr("x2", P.right)
  .attr("y1", d => y(d)).attr("y2", d => y(d))
  .attr("stroke", "#e6e6e6").attr("stroke-width", 0.8);

// full-sample average
svg.append("line").attr("x1", P.left).attr("x2", P.right)
  .attr("y1", y(fullSampleAvg)).attr("y2", y(fullSampleAvg))
  .attr("stroke", "#6e6e6e").attr("stroke-width", 1).attr("stroke-dasharray", "4,2.6");
txt("full-sample avg " + fullSampleAvg.toFixed(2), {x: 553, y: y(fullSampleAvg) + 3.4,
  "font-family": "DejaVu Sans, sans-serif", "font-size": 9.5, fill: "#555", textLength: 95, lengthAdjust: "spacingAndGlyphs"});

// lines
const line = d3.line().x(d => x(d[0])).y(d => y(d[1]));
svg.append("path").datum(sectorNeutral).attr("d", line).attr("fill", "none")
  .attr("stroke", TEAL).attr("stroke-width", 1.2).attr("stroke-dasharray", "2,1.2");
svg.append("path").datum(marketLevel).attr("d", line).attr("fill", "none")
  .attr("stroke", RED).attr("stroke-width", 1.35).attr("stroke-linejoin", "round");

// axes
const yAxis = d3.axisLeft(y).tickValues(yTicks).tickFormat(d3.format(".2f")).tickSize(3.5).tickSizeOuter(0).tickPadding(3.5);
const xAxis = d3.axisBottom(x).tickValues(xTicks).tickFormat(d3.format("d")).tickSize(3.5).tickSizeOuter(0).tickPadding(3.5);
const gy = svg.append("g").attr("transform", `translate(${P.left},0)`).call(yAxis);
const gx = svg.append("g").attr("transform", `translate(0,${P.bottom})`).call(xAxis);
[gx, gy].forEach(g => {
  g.select(".domain").attr("stroke", "#8a8a8a").attr("stroke-width", 1);
  g.selectAll(".tick line").attr("stroke", "#8a8a8a");
  g.selectAll(".tick text").attr("fill", "#555").attr("font-family", "DejaVu Sans, sans-serif").attr("font-size", 10.4);
});

// y label
txt("Rolling 65-day correlation", {transform: "translate(29,241) rotate(-90)", "text-anchor": "middle",
  "dominant-baseline": "central", "font-family": "DejaVu Sans, sans-serif", "font-size": 11.5, fill: "#333"});

// annotation
svg.append("defs").append("marker").attr("id", "ah").attr("viewBox", "0 0 10 10")
  .attr("refX", 9).attr("refY", 5).attr("markerWidth", 7).attr("markerHeight", 7)
  .attr("markerUnits", "userSpaceOnUse").attr("orient", "auto")
  .append("path").attr("d", "M0,1 L9,5 L0,9").attr("fill", "none").attr("stroke", RED).attr("stroke-width", 1.5);
const last = marketLevel[marketLevel.length - 1];
const ax0 = 378, ay0 = 151;
const ax1 = x(last[0]), ay1 = y(last[1]);
const dx = ax1 - ax0, dy = ay1 - ay0, len = Math.hypot(dx, dy), shrink = 4;
svg.append("line").attr("x1", ax0).attr("y1", ay0)
  .attr("x2", ax1 - dx / len * shrink).attr("y2", ay1 - dy / len * shrink)
  .attr("stroke", RED).attr("stroke-width", 1.2).attr("marker-end", "url(#ah)");
txt(`today: market +${todayMarket.toFixed(2)}, sector-neutral +${todaySector.toFixed(2)} (${todayPct})`,
  {x: 188, y: 146.5, "font-family": "DejaVu Sans, sans-serif", "font-weight": "bold", "font-size": 9.5,
   fill: RED, textLength: 314, lengthAdjust: "spacingAndGlyphs"});

// legend
const leg = [{name: seriesNames[0], color: TEAL, dash: "2,1.2", cy: 322.7},
             {name: seriesNames[1], color: RED, dash: null, cy: 335.2}];
leg.forEach(l => {
  svg.append("line").attr("x1", 89).attr("x2", 106).attr("y1", l.cy).attr("y2", l.cy)
    .attr("stroke", l.color).attr("stroke-width", 1.2).attr("stroke-dasharray", l.dash);
  txt(l.name, {x: 114, y: l.cy + 3.2, "font-family": "DejaVu Sans, sans-serif", "font-size": 9, fill: "#333"});
});

// footer
txt("Source: RenMac. Rolling 65-day correlation of S&P 500 momentum vs. the beta spread, 1958–2026, for both market-level and sector-neutral",
  {x: 15, y: 387, "font-family": "Liberation Sans, Arial, sans-serif", "font-style": "italic", "font-size": 10.2,
   fill: "#555", textLength: 637, lengthAdjust: "spacingAndGlyphs"});
txt("momentum. Equal-weight.", {x: 15, y: 400, "font-family": "Liberation Sans, Arial, sans-serif",
  "font-style": "italic", "font-size": 10.2, fill: "#555", textLength: 118, lengthAdjust: "spacingAndGlyphs"});
</script>
</body></html>
